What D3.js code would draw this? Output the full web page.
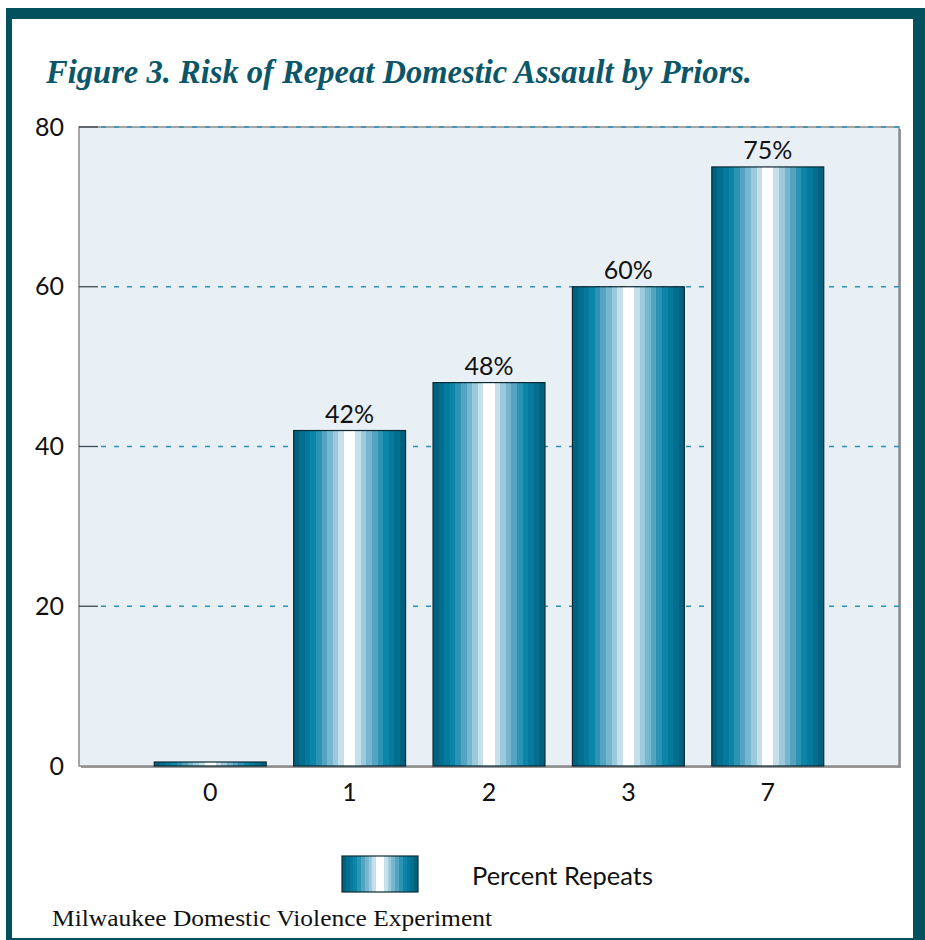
<!DOCTYPE html>
<html>
<head>
<meta charset="utf-8">
<script src="https://cdn.jsdelivr.net/npm/d3@7"></script>
<style>
  body { margin: 0; background: #fff; }
  svg { display: block; }
</style>
</head>
<body>
<div id="chart"></div>
<script>
// data
var priors = ["0", "1", "2", "3", "7"];
var repeatPct = [0.5, 42, 48, 60, 75];
var pctLabels = ["", "42%", "48%", "60%", "75%"];
var yTicks = [0, 20, 40, 60, 80];

var width = 925, height = 940;
// plot box (note: "top" is reserved on window, so use plot* names)
var plotL = 79, plotR = 899, plotT = 127, plotB = 766;
var labelFont = "Lato, 'Open Sans', sans-serif";

var svg = d3.select("#chart").append("svg")
  .attr("width", width)
  .attr("height", height);

// frame
svg.append("rect").attr("x", 6).attr("y", 8).attr("width", 919).attr("height", 932).attr("fill", "#03505f");
svg.append("rect").attr("x", 12).attr("y", 19).attr("width", 901).attr("height", 919).attr("fill", "#fff");

// stripe gradient for the bars (dark edges, white middle)
var stripes = ["#00617f", "#036e90", "#067a9d", "#0b86a9", "#2c93b5", "#52a4c1", "#76b6cf", "#9ccadd", "#c6e0eb"];
var defs = svg.append("defs");
var grad = defs.append("linearGradient").attr("id", "stripe")
  .attr("x1", 0).attr("x2", 1).attr("y1", 0).attr("y2", 0);
var nS = stripes.length, unit = 1 / (2 * nS + 2);
stripes.forEach(function(c, i) {
  grad.append("stop").attr("offset", i * unit).attr("stop-color", c);
  grad.append("stop").attr("offset", (i + 1) * unit).attr("stop-color", c);
});
grad.append("stop").attr("offset", nS * unit).attr("stop-color", "#ffffff");
grad.append("stop").attr("offset", (nS + 2) * unit).attr("stop-color", "#ffffff");
stripes.slice().reverse().forEach(function(c, i) {
  grad.append("stop").attr("offset", (nS + 2 + i) * unit).attr("stop-color", c);
  grad.append("stop").attr("offset", (nS + 3 + i) * unit).attr("stop-color", c);
});

// scales
var x = d3.scaleBand().domain(priors).range([plotL, plotR])
  .paddingInner(0.197).paddingOuter(0.54);
var y = d3.scaleLinear().domain([0, 80]).range([plotB, plotT]);

// title
svg.append("text")
  .attr("x", 46).attr("y", 83)
  .attr("textLength", 706).attr("lengthAdjust", "spacingAndGlyphs")
  .style("font-family", "'Liberation Serif', serif")
  .style("font-style", "italic").style("font-weight", "bold")
  .style("font-size", "33px").attr("fill", "#0b5668")
  .text("Figure 3. Risk of Repeat Domestic Assault by Priors.");

// plot area
svg.append("rect").attr("x", plotL + 2).attr("y", plotT + 2).attr("width", plotR - plotL).attr("height", plotB - plotT)
  .attr("fill", "#9a9a9a");
svg.append("rect").attr("x", plotL).attr("y", plotT).attr("width", plotR - plotL).attr("height", plotB - plotT)
  .attr("fill", "#e8f0f6").attr("stroke", "#8a8a8a").attr("stroke-width", 1.5);

// gridlines, with a short dark tick at the left end
var grid = svg.append("g").selectAll("g")
  .data(yTicks.filter(function(d) { return d > 0; }))
  .enter().append("g");
grid.append("line")
  .attr("x1", plotL + 22).attr("x2", plotR)
  .attr("y1", function(d) { return y(d); }).attr("y2", function(d) { return y(d); })
  .attr("stroke", "#2b90b9").attr("stroke-width", 1.3)
  .attr("stroke-dasharray", "5,8");
grid.append("line")
  .attr("x1", plotL).attr("x2", plotL + 19)
  .attr("y1", function(d) { return y(d); }).attr("y2", function(d) { return y(d); })
  .attr("stroke", "#3a4a50").attr("stroke-width", 1.3);

// y axis labels
var yAxis = d3.axisLeft(y).tickValues(yTicks).tickSize(0).tickPadding(15);
var gy = svg.append("g").attr("transform", "translate(" + plotL + ",0)").call(yAxis);
gy.select(".domain").remove();
gy.selectAll("text")
  .style("font-family", labelFont)
  .style("font-size", "25px").attr("fill", "#111");

// x axis labels
var xAxis = d3.axisBottom(x).tickSize(0).tickPadding(17);
var gx = svg.append("g").attr("transform", "translate(0," + plotB + ")").call(xAxis);
gx.select(".domain").remove();
gx.selectAll("text")
  .style("font-family", labelFont)
  .style("font-size", "25px").attr("fill", "#111");

// bars
svg.append("g").selectAll("rect")
  .data(repeatPct)
  .enter().append("rect")
  .attr("x", function(d, i) { return x(priors[i]); })
  .attr("y", function(d) { return y(d); })
  .attr("width", x.bandwidth())
  .attr("height", function(d) { return y(0) - y(d); })
  .attr("fill", "url(#stripe)")
  .attr("stroke", "#0c2a33").attr("stroke-width", 1.2);

// value labels
svg.append("g").selectAll("text")
  .data(repeatPct)
  .enter().append("text")
  .attr("x", function(d, i) { return x(priors[i]) + x.bandwidth() / 2; })
  .attr("y", function(d) { return y(d) - 8; })
  .attr("text-anchor", "middle")
  .style("font-family", labelFont)
  .style("font-size", "25px").attr("fill", "#111")
  .text(function(d, i) { return pctLabels[i]; });

// legend
svg.append("rect").attr("x", 342).attr("y", 856).attr("width", 76).attr("height", 36)
  .attr("fill", "url(#stripe)").attr("stroke", "#0c2a33").attr("stroke-width", 1.2);
svg.append("text").attr("x", 472).attr("y", 885)
  .attr("textLength", 181).attr("lengthAdjust", "spacingAndGlyphs")
  .style("font-family", labelFont)
  .style("font-size", "25px").attr("fill", "#111")
  .text("Percent Repeats");

// source
svg.append("text").attr("x", 52).attr("y", 926)
  .attr("textLength", 440).attr("lengthAdjust", "spacingAndGlyphs")
  .style("font-family", "'Liberation Serif', serif")
  .style("font-size", "23px").attr("fill", "#111")
  .text("Milwaukee Domestic Violence Experiment");
</script>
</body>
</html>
